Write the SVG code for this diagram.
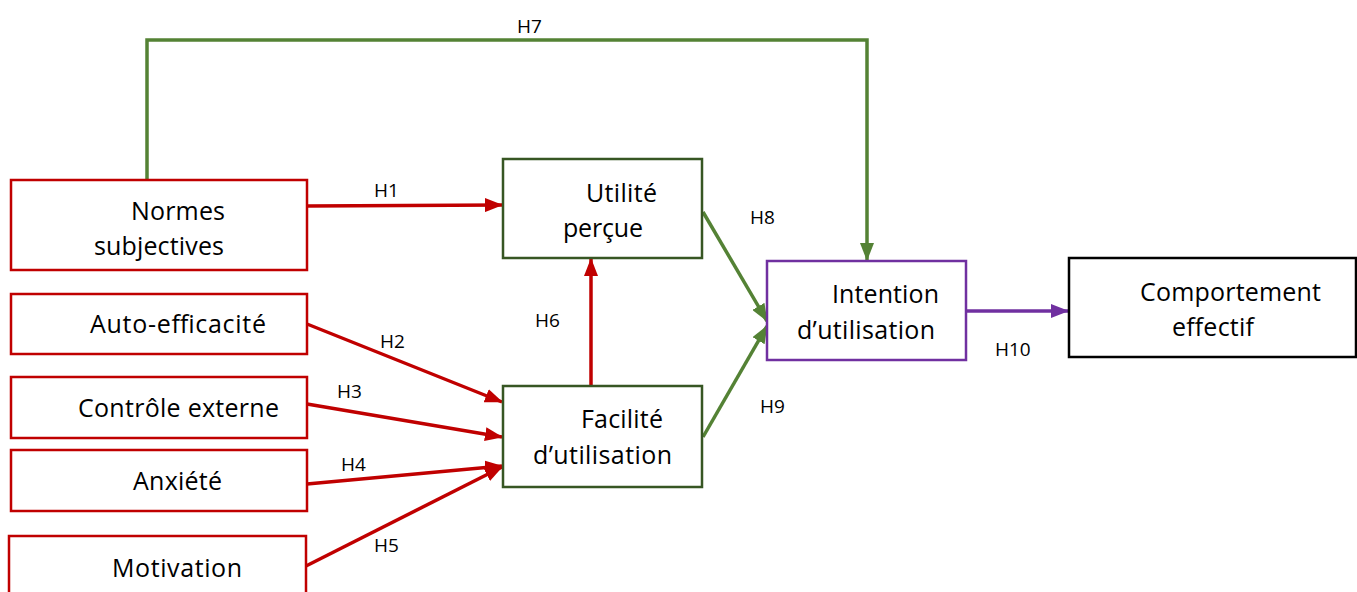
<svg xmlns="http://www.w3.org/2000/svg" width="1357" height="592" viewBox="0 0 1357 592">
<defs>
<style>
.t{font-family:"Open Sans","Liberation Sans",sans-serif;font-size:25px;fill:#000}
.l{font-family:"Open Sans","Liberation Sans",sans-serif;font-size:19px;fill:#000}
.rb{fill:#fff;stroke:#C00000;stroke-width:2.5}
.gb{fill:#fff;stroke:#375623;stroke-width:2.5}
.pb{fill:#fff;stroke:#7030A0;stroke-width:2.5}
.kb{fill:#fff;stroke:#000;stroke-width:2.5}
.ra{fill:none;stroke:#C00000;stroke-width:3.5}
.ga{fill:none;stroke:#548235;stroke-width:3.5}
.pa{fill:none;stroke:#7030A0;stroke-width:3.5}
</style>
<marker id="mr" markerUnits="userSpaceOnUse" markerWidth="18" markerHeight="14" refX="17" refY="7" orient="auto"><path d="M0,0 L18,7 L0,14 Z" fill="#C00000"/></marker>
<marker id="mg" markerUnits="userSpaceOnUse" markerWidth="18" markerHeight="14" refX="17" refY="7" orient="auto"><path d="M0,0 L18,7 L0,14 Z" fill="#548235"/></marker>
<marker id="mp" markerUnits="userSpaceOnUse" markerWidth="18" markerHeight="14" refX="17" refY="7" orient="auto"><path d="M0,0 L18,7 L0,14 Z" fill="#7030A0"/></marker>
</defs>
<rect width="1357" height="592" fill="#fff"/>
<g id="connectors">
<path class="ga" d="M147,180 V40 H867 V260" marker-end="url(#mg)"/>
<path class="ra" d="M307,206 L502,205" marker-end="url(#mr)"/>
<path class="ra" d="M307,324 L502,402" marker-end="url(#mr)"/>
<path class="ra" d="M307,404 L502,437" marker-end="url(#mr)"/>
<path class="ra" d="M307,484 L502,466" marker-end="url(#mr)"/>
<path class="ra" d="M306,566 L502,467" marker-end="url(#mr)"/>
<path class="ra" d="M591,386 L591,259" marker-end="url(#mr)"/>
<path class="ga" d="M703,212 L767,321" marker-end="url(#mg)"/>
<path class="ga" d="M703,437 L767,326" marker-end="url(#mg)"/>
<path class="pa" d="M967,311 L1068,311" marker-end="url(#mp)"/>
<text class="l" x="517" y="33">H7</text>
<text class="l" x="374" y="197">H1</text>
<text class="l" x="380" y="348">H2</text>
<text class="l" x="337" y="398">H3</text>
<text class="l" x="341" y="471">H4</text>
<text class="l" x="374" y="552">H5</text>
<text class="l" x="535" y="327">H6</text>
<text class="l" x="750" y="224">H8</text>
<text class="l" x="760" y="413">H9</text>
<text class="l" x="995" y="356">H10</text>
</g>
<g id="normes"><rect class="rb" x="11" y="180" width="296" height="90"/><text class="t" x="131" y="220" textLength="94">Normes</text><text class="t" x="94" y="255" textLength="130">subjectives</text></g>
<g id="auto"><rect class="rb" x="11" y="294" width="296" height="60"/><text class="t" x="90" y="333" textLength="176">Auto-efficacité</text></g>
<g id="controle"><rect class="rb" x="11" y="377" width="296" height="61"/><text class="t" x="78" y="417" textLength="201">Contrôle externe</text></g>
<g id="anxiete"><rect class="rb" x="11" y="450" width="296" height="61"/><text class="t" x="133" y="490" textLength="89">Anxiété</text></g>
<g id="motivation"><rect class="rb" x="9" y="536" width="297" height="70"/><text class="t" x="112" y="577" textLength="130">Motivation</text></g>
<g id="utilite"><rect class="gb" x="503" y="159" width="199" height="99"/><text class="t" x="586" y="202" textLength="71">Utilité</text><text class="t" x="563" y="237" textLength="80">perçue</text></g>
<g id="facilite"><rect class="gb" x="503" y="386" width="199" height="101"/><text class="t" x="581" y="428" textLength="82">Facilité</text><text class="t" x="533" y="464" textLength="139">d’utilisation</text></g>
<g id="intention"><rect class="pb" x="767" y="261" width="199" height="99"/><text class="t" x="832" y="303" textLength="107">Intention</text><text class="t" x="797" y="339" textLength="138">d’utilisation</text></g>
<g id="comportement"><rect class="kb" x="1069" y="258" width="287" height="99"/><text class="t" x="1140" y="301" textLength="181">Comportement</text><text class="t" x="1172" y="336" textLength="82">effectif</text></g>
</svg>
